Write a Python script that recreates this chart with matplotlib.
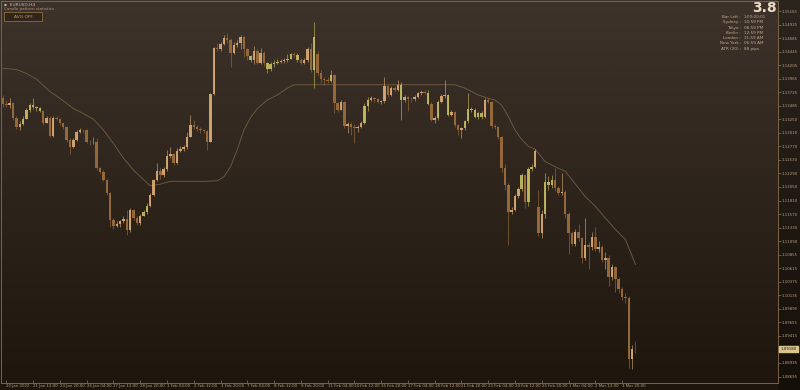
import numpy as np
import matplotlib
matplotlib.use("Agg")
from matplotlib import pyplot as plt
from matplotlib.patches import Rectangle

# EURUSD H4 candles
opens = [1.1362, 1.1352, 1.1350, 1.1354, 1.1328, 1.1312, 1.1316, 1.1326, 1.1341, 1.1351,
         1.1346, 1.1344, 1.1340, 1.1319, 1.1327, 1.1295, 1.1328, 1.1326, 1.1318, 1.1311,
         1.1288, 1.1275, 1.1288, 1.1302, 1.1306, 1.1305, 1.1285, 1.1284, 1.1285, 1.1238,
         1.1232, 1.1218, 1.1194, 1.1147, 1.1136, 1.1140, 1.1144, 1.1149, 1.1129, 1.1164,
         1.1150, 1.1142, 1.1154, 1.1160, 1.1172, 1.1191, 1.1218, 1.1234, 1.1226, 1.1236,
         1.1260, 1.1264, 1.1247, 1.1269, 1.1272, 1.1275, 1.1294, 1.1314, 1.1312, 1.1307,
         1.1305, 1.1304, 1.1285, 1.1370, 1.1451, 1.1449, 1.1458, 1.1468, 1.1465, 1.1443,
         1.1456, 1.1459, 1.1470, 1.1449, 1.1436, 1.1429, 1.1445, 1.1424, 1.1443, 1.1424,
         1.1413, 1.1423, 1.1424, 1.1426, 1.1428, 1.1430, 1.1432, 1.1441, 1.1439, 1.1430,
         1.1425, 1.1429, 1.1450, 1.1412, 1.1440, 1.1407, 1.1396, 1.1394, 1.1393, 1.1403,
         1.1353, 1.1342, 1.1356, 1.1313, 1.1317, 1.1311, 1.1309, 1.1312, 1.1318, 1.1348,
         1.1359, 1.1362, 1.1360, 1.1356, 1.1357, 1.1383, 1.1368, 1.1380, 1.1377, 1.1386,
         1.1359, 1.1364, 1.1361, 1.1360, 1.1364, 1.1371, 1.1374, 1.1372, 1.1352, 1.1324,
         1.1327, 1.1356, 1.1366, 1.1367, 1.1333, 1.1337, 1.1315, 1.1306, 1.1309, 1.1321,
         1.1343, 1.1341, 1.1329, 1.1336, 1.1329, 1.1359, 1.1356, 1.1313, 1.1311, 1.1294,
         1.1238, 1.1208, 1.1161, 1.1165, 1.1189, 1.1201, 1.1226, 1.1179, 1.1236, 1.1241,
         1.1170, 1.1123, 1.1158, 1.1213, 1.1208, 1.1217, 1.1203, 1.1194, 1.1196, 1.1158,
         1.1123, 1.1105, 1.1126, 1.1114, 1.1079, 1.1102, 1.1099, 1.1116, 1.1096, 1.1099,
         1.1076, 1.1079, 1.1046, 1.1064, 1.1043, 1.1024, 1.1011, 1.1008, 1.0900, 1.0919]
highs = [1.1368, 1.1359, 1.1362, 1.1356, 1.1331, 1.1321, 1.1330, 1.1344, 1.1354, 1.1362,
         1.1348, 1.1346, 1.1341, 1.1331, 1.1330, 1.1331, 1.1331, 1.1328, 1.1319, 1.1313,
         1.1291, 1.1291, 1.1306, 1.1309, 1.1308, 1.1307, 1.1288, 1.1294, 1.1291, 1.1241,
         1.1235, 1.1220, 1.1197, 1.1150, 1.1144, 1.1147, 1.1153, 1.1164, 1.1167, 1.1166,
         1.1153, 1.1158, 1.1164, 1.1176, 1.1194, 1.1220, 1.1248, 1.1238, 1.1241, 1.1271,
         1.1276, 1.1266, 1.1274, 1.1278, 1.1279, 1.1303, 1.1333, 1.1324, 1.1315, 1.1311,
         1.1308, 1.1306, 1.1372, 1.1453, 1.1459, 1.1462, 1.1474, 1.1477, 1.1468, 1.1462,
         1.1465, 1.1474, 1.1472, 1.1451, 1.1439, 1.1455, 1.1449, 1.1451, 1.1446, 1.1427,
         1.1427, 1.1429, 1.1431, 1.1431, 1.1433, 1.1441, 1.1443, 1.1444, 1.1442, 1.1433,
         1.1433, 1.1452, 1.1459, 1.1497, 1.1445, 1.1412, 1.1400, 1.1399, 1.1412, 1.1405,
         1.1356, 1.1359, 1.1357, 1.1320, 1.1320, 1.1316, 1.1315, 1.1321, 1.1353, 1.1364,
         1.1366, 1.1365, 1.1362, 1.1359, 1.1400, 1.1386, 1.1383, 1.1383, 1.1395, 1.1390,
         1.1368, 1.1366, 1.1365, 1.1368, 1.1374, 1.1377, 1.1377, 1.1376, 1.1355, 1.1330,
         1.1359, 1.1370, 1.1395, 1.1370, 1.1341, 1.1340, 1.1317, 1.1312, 1.1323, 1.1371,
         1.1346, 1.1344, 1.1339, 1.1339, 1.1362, 1.1362, 1.1358, 1.1316, 1.1313, 1.1296,
         1.1245, 1.1212, 1.1170, 1.1192, 1.1205, 1.1230, 1.1228, 1.1240, 1.1245, 1.1273,
         1.1200, 1.1165, 1.1230, 1.1225, 1.1226, 1.1238, 1.1206, 1.1230, 1.1199, 1.1160,
         1.1128, 1.1130, 1.1140, 1.1117, 1.1150, 1.1108, 1.1125, 1.1135, 1.1110, 1.1102,
         1.1090, 1.1085, 1.1068, 1.1066, 1.1046, 1.1028, 1.1018, 1.1012, 1.0925, 1.0932]
lows = [1.1347, 1.1346, 1.1344, 1.1324, 1.1307, 1.1306, 1.1315, 1.1325, 1.1338, 1.1343,
        1.1340, 1.1337, 1.1315, 1.1318, 1.1293, 1.1294, 1.1323, 1.1315, 1.1307, 1.1285,
        1.1264, 1.1274, 1.1286, 1.1300, 1.1301, 1.1282, 1.1279, 1.1281, 1.1235, 1.1229,
        1.1215, 1.1191, 1.1135, 1.1130, 1.1134, 1.1134, 1.1141, 1.1120, 1.1126, 1.1147,
        1.1138, 1.1138, 1.1153, 1.1158, 1.1170, 1.1189, 1.1216, 1.1220, 1.1223, 1.1234,
        1.1256, 1.1244, 1.1246, 1.1267, 1.1269, 1.1273, 1.1293, 1.1308, 1.1304, 1.1301,
        1.1300, 1.1271, 1.1284, 1.1368, 1.1445, 1.1446, 1.1456, 1.1459, 1.1418, 1.1441,
        1.1453, 1.1449, 1.1435, 1.1430, 1.1427, 1.1423, 1.1422, 1.1423, 1.1419, 1.1407,
        1.1411, 1.1417, 1.1422, 1.1424, 1.1425, 1.1426, 1.1431, 1.1435, 1.1427, 1.1423,
        1.1423, 1.1426, 1.1409, 1.1380, 1.1403, 1.1389, 1.1386, 1.1389, 1.1390, 1.1336,
        1.1337, 1.1341, 1.1309, 1.1300, 1.1297, 1.1283, 1.1303, 1.1309, 1.1316, 1.1340,
        1.1358, 1.1356, 1.1353, 1.1352, 1.1353, 1.1365, 1.1366, 1.1374, 1.1375, 1.1324,
        1.1356, 1.1340, 1.1356, 1.1357, 1.1362, 1.1368, 1.1369, 1.1350, 1.1321, 1.1318,
        1.1324, 1.1353, 1.1362, 1.1330, 1.1330, 1.1312, 1.1297, 1.1291, 1.1306, 1.1318,
        1.1337, 1.1327, 1.1326, 1.1326, 1.1327, 1.1353, 1.1310, 1.1307, 1.1290, 1.1232,
        1.1200, 1.1102, 1.1158, 1.1163, 1.1185, 1.1198, 1.1167, 1.1172, 1.1233, 1.1238,
        1.1118, 1.1115, 1.1150, 1.1200, 1.1203, 1.1198, 1.1190, 1.1190, 1.1150, 1.1087,
        1.1100, 1.1100, 1.1110, 1.1070, 1.1075, 1.1060, 1.1093, 1.1092, 1.1090, 1.1072,
        1.1060, 1.1029, 1.1040, 1.1020, 1.1018, 1.1005, 1.1000, 1.0885, 1.0882, 1.0912]
closes = [1.1352, 1.1350, 1.1354, 1.1328, 1.1312, 1.1316, 1.1326, 1.1341, 1.1351, 1.1346,
          1.1344, 1.1340, 1.1319, 1.1327, 1.1295, 1.1328, 1.1326, 1.1318, 1.1311, 1.1288,
          1.1275, 1.1288, 1.1302, 1.1306, 1.1305, 1.1285, 1.1284, 1.1285, 1.1238, 1.1232,
          1.1218, 1.1194, 1.1147, 1.1136, 1.1140, 1.1144, 1.1149, 1.1129, 1.1164, 1.1150,
          1.1142, 1.1154, 1.1160, 1.1172, 1.1191, 1.1218, 1.1234, 1.1226, 1.1236, 1.1260,
          1.1264, 1.1247, 1.1269, 1.1272, 1.1275, 1.1294, 1.1314, 1.1312, 1.1307, 1.1305,
          1.1304, 1.1285, 1.1370, 1.1451, 1.1449, 1.1458, 1.1468, 1.1465, 1.1443, 1.1456,
          1.1459, 1.1470, 1.1449, 1.1436, 1.1429, 1.1445, 1.1424, 1.1443, 1.1424, 1.1413,
          1.1423, 1.1424, 1.1426, 1.1428, 1.1430, 1.1432, 1.1441, 1.1439, 1.1430, 1.1425,
          1.1429, 1.1450, 1.1412, 1.1471, 1.1407, 1.1396, 1.1394, 1.1393, 1.1403, 1.1353,
          1.1342, 1.1356, 1.1313, 1.1317, 1.1311, 1.1309, 1.1312, 1.1318, 1.1348, 1.1359,
          1.1362, 1.1360, 1.1356, 1.1357, 1.1383, 1.1368, 1.1380, 1.1377, 1.1386, 1.1359,
          1.1364, 1.1361, 1.1360, 1.1364, 1.1371, 1.1374, 1.1372, 1.1352, 1.1324, 1.1327,
          1.1356, 1.1366, 1.1367, 1.1333, 1.1337, 1.1315, 1.1306, 1.1309, 1.1321, 1.1343,
          1.1341, 1.1329, 1.1336, 1.1329, 1.1359, 1.1356, 1.1313, 1.1311, 1.1294, 1.1238,
          1.1208, 1.1161, 1.1165, 1.1189, 1.1201, 1.1226, 1.1179, 1.1236, 1.1241, 1.1268,
          1.1123, 1.1158, 1.1213, 1.1208, 1.1217, 1.1203, 1.1194, 1.1196, 1.1158, 1.1123,
          1.1105, 1.1126, 1.1114, 1.1079, 1.1102, 1.1099, 1.1116, 1.1096, 1.1099, 1.1076,
          1.1079, 1.1046, 1.1064, 1.1043, 1.1024, 1.1011, 1.1008, 1.0900, 1.0919, 1.0918]

# bars drawn in the olive/yellow shade
yellow_bars = [6, 7, 8, 9, 10, 11, 42, 43, 74, 79, 80, 81, 82, 86, 88, 93, 98, 108, 109,
               119, 127, 130, 133, 138, 139, 140, 141, 142, 143, 155, 157, 158, 162, 163, 164]

# moving average line, sampled at bar indices
ma_bars = [0, 4, 7, 10, 14, 17, 21, 24, 27, 30, 33, 36, 39, 42, 44, 47, 50, 60, 64, 66,
           68, 70, 72, 74, 76, 79, 82, 85, 87, 98, 135, 136, 138, 140, 142, 145, 147, 149,
           151, 153, 155, 157, 159, 160, 162, 164, 166, 168, 170, 172, 174, 177, 180, 183,
           186, 189]
ma_vals = [1.1415, 1.1413, 1.1406, 1.1396, 1.1374, 1.1362, 1.1344, 1.1335, 1.1325, 1.1306,
           1.1282, 1.1256, 1.1235, 1.1218, 1.1207, 1.1210, 1.1215, 1.1215, 1.1216, 1.1223,
           1.1241, 1.1271, 1.1306, 1.1328, 1.1344, 1.1359, 1.1368, 1.1380, 1.1386, 1.1386,
           1.1386, 1.1384, 1.1380, 1.1374, 1.1368, 1.1362, 1.1359, 1.1350, 1.1330, 1.1306,
           1.1289, 1.1277, 1.1272, 1.1265, 1.1250, 1.1244, 1.1238, 1.1233, 1.1218, 1.1203,
           1.1188, 1.1171, 1.1150, 1.1130, 1.1112, 1.1068]

x_labels = ["20 Jan 2022", "21 Jan 12:00", "24 Jan 20:00", "26 Jan 04:00", "27 Jan 12:00",
            "28 Jan 20:00", "1 Feb 04:00", "2 Feb 12:00", "3 Feb 20:00", "7 Feb 04:00",
            "8 Feb 12:00", "9 Feb 20:00", "11 Feb 04:00", "14 Feb 12:00", "15 Feb 20:00",
            "17 Feb 04:00", "18 Feb 12:00", "21 Feb 20:00", "23 Feb 04:00", "24 Feb 12:00",
            "25 Feb 20:00", "1 Mar 04:00", "2 Mar 12:00", "3 Mar 20:00"]
x_label_bars = [1 + 8 * k for k in range(len(x_labels))]

y_labels = ["1.15165", "1.14925", "1.14685", "1.14445", "1.14205", "1.13965", "1.13725",
            "1.13485", "1.13250", "1.13010", "1.12770", "1.12530", "1.12290", "1.12050",
            "1.11810", "1.11570", "1.11330", "1.11090", "1.10855", "1.10615", "1.10375",
            "1.10135", "1.09895", "1.09655", "1.09415", "1.08935", "1.08695"]

info_keys = ["Bar Left", "Sydney", "Tokyo", "Berlin", "London", "New York", "ATR (20)"]
info_vals = ["1:00:00:01", "10:59 PM", "08:59 PM", "12:59 PM", "11:59 AM", "06:59 AM", "88 pips"]

W, H = 800, 390
small = 'Liberation Sans Narrow'
plt.rcParams['font.family'] = [small, 'DejaVu Sans']

fig = plt.figure(figsize=(8, 3.9), dpi=100)

# background gradient
bg = fig.add_axes([0, 0, 1, 1])
bg.axis('off')
top = np.array([61, 51, 42]) / 255
bot = np.array([30, 21, 13]) / 255
t = np.linspace(0, 1, 256)[:, None]
grad = top[None, :] * (1 - t) + bot[None, :] * t
img = np.repeat(grad[:, None, :], 2, axis=1)
bg.imshow(img, aspect='auto', extent=[0, 1, 0, 1])
strip = np.clip(img * 0.72, 0, 1)
bg.imshow(strip, aspect='auto', extent=[778 / W, 1, 0, 1])
bg.set_xlim(0, 1)
bg.set_ylim(0, 1)

ax = fig.add_axes([1 / W, 7 / H, 777 / W, 382 / H])
ax.patch.set_alpha(0)

peach = '#d8aa74'
olive = '#c4bb60'
brown = '#9c6d3c'

n = len(closes)
xs = np.arange(n)
o = np.array(opens)
c = np.array(closes)
cols = []
for i in range(n):
    if i in yellow_bars:
        cols.append(olive)
    elif c[i] >= o[i]:
        cols.append(peach)
    else:
        cols.append(brown)

ax.vlines(xs, lows, highs, colors=cols, linewidth=0.6, alpha=0.7, zorder=2)
body_lo = np.minimum(o, c)
body_h = np.maximum(np.abs(c - o), 0.00005)
ax.bar(xs, body_h, bottom=body_lo, width=0.74, color=cols, linewidth=0, alpha=0.92, zorder=3)

ax.plot(ma_bars, ma_vals, color='#6f5a41', linewidth=0.65, zorder=1)

ax.set_xlim(-0.6, 231.6)
ax.set_ylim(1.08581, 1.15342)

for sp in ax.spines.values():
    sp.set_color('#7a6449')
    sp.set_linewidth(0.7)

ax.yaxis.tick_right()
ax.set_yticks([float(v) for v in y_labels])
ax.set_yticklabels(y_labels)
ax.tick_params(axis='y', length=1.8, width=0.5, color='#8a7458', labelsize=2.8,
               labelcolor='#b8a282', pad=1.0)
ax.set_xticks(x_label_bars)
ax.set_xticklabels(x_labels, ha='left')
ax.tick_params(axis='x', length=2.5, width=0.5, color='#8a7458', labelsize=2.8,
               labelcolor='#b8a282', pad=0.8, direction='in')

# current price tag
last = closes[-1]
ax.text(1.003, last, f"{last:.5f}", transform=ax.get_yaxis_transform(), fontsize=2.8,
        color='#1e1710', va='center', ha='left',
        bbox=dict(boxstyle='square,pad=0.25', fc='#d9c48e', ec='#d9c48e'))

# header texts
fig.text(4 / W, 1 - 4.5 / H, "\u25aa  EURUSD,H4", fontsize=3.2, color='#c8b496', va='center')
fig.text(4 / W, 1 - 9 / H, "Candle pattern statistics", fontsize=3.0, color='#a8967e', va='center')
fig.patches.append(Rectangle((4 / W, 1 - 21 / H), 38 / W, 9 / H, transform=fig.transFigure,
                             fc='#2f251b', ec='#8c6c40', lw=0.6))
fig.text(23 / W, 1 - 16.5 / H, "AVG OFF", fontsize=3.2, color='#c89c68', ha='center', va='center')

fig.text(777 / W, 1 - 8.5 / H, "3.8", fontsize=10, color='#eadcc6', ha='right', va='center',
         fontweight='bold', family='DejaVu Sans')
for k, (key, val) in enumerate(zip(info_keys, info_vals)):
    yy = 1 - (17 + 5.3 * k) / H
    fig.text(741 / W, yy, key + " :", fontsize=3.0, color='#c0ad92', ha='right', va='center')
    fig.text(744 / W, yy, val, fontsize=3.0, color='#c0ad92', ha='left', va='center')

fig.savefig('out.png', dpi=100)
